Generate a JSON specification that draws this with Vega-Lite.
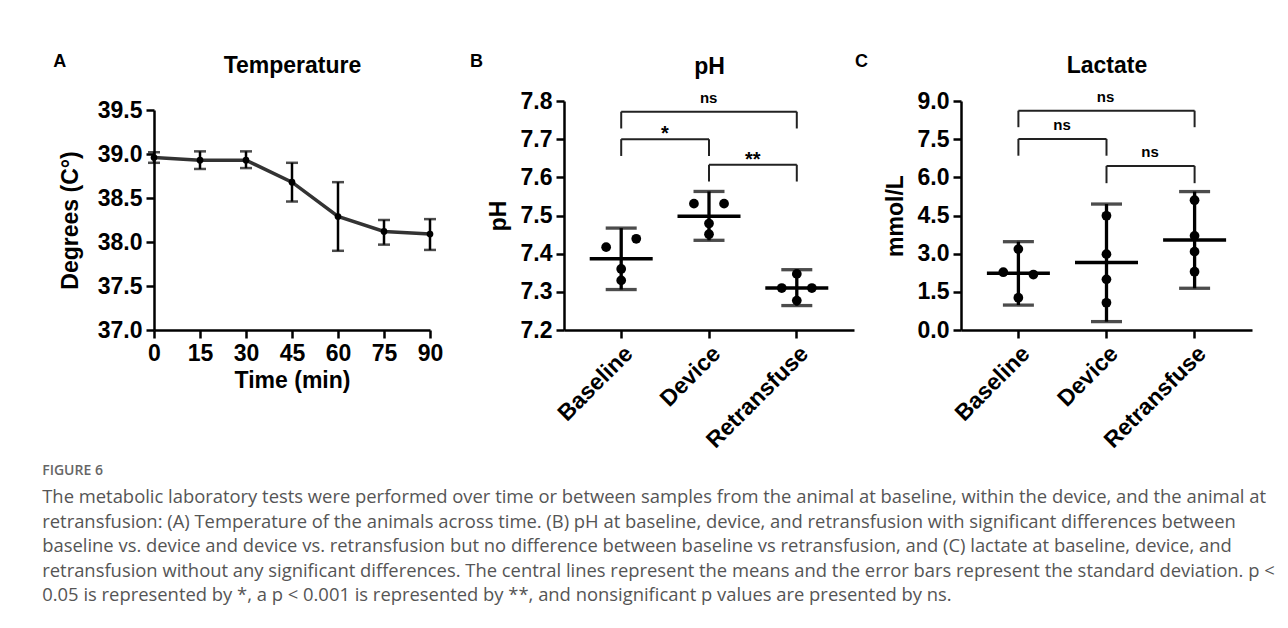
{
  "$schema": "https://vega.github.io/schema/vega-lite/v6.json",
  "background": "white",
  "padding": {"left": 42, "top": 53, "right": 5, "bottom": 2},
  "config": {
    "view": {"stroke": null},
    "font": "Liberation Sans",
    "axis": {
      "domainColor": "#000", "domainWidth": 2.5, "tickColor": "#000", "tickWidth": 2.5, "tickSize": 8,
      "labelFont": "Liberation Sans", "labelFontSize": 23, "labelFontWeight": "bold", "labelColor": "#000",
      "titleFont": "Liberation Sans", "titleFontSize": 23, "titleFontWeight": "bold", "titleColor": "#000",
      "grid": false, "labelPadding": 4, "labelOverlap": false, "labelFlush": false
    }
  },
  "datasets": {
    "temp": [
      {"time": 0, "mean": 38.96, "lo": 38.90, "hi": 39.02},
      {"time": 15, "mean": 38.93, "lo": 38.83, "hi": 39.03},
      {"time": 30, "mean": 38.93, "lo": 38.84, "hi": 39.03},
      {"time": 45, "mean": 38.68, "lo": 38.46, "hi": 38.90},
      {"time": 60, "mean": 38.29, "lo": 37.90, "hi": 38.68},
      {"time": 75, "mean": 38.12, "lo": 37.97, "hi": 38.25},
      {"time": 90, "mean": 38.09, "lo": 37.91, "hi": 38.26}
    ],
    "phSummary": [
      {"group": "Baseline", "mean": 7.387, "lo": 7.306, "hi": 7.467},
      {"group": "Device", "mean": 7.498, "lo": 7.435, "hi": 7.563},
      {"group": "Retransfuse", "mean": 7.310, "lo": 7.264, "hi": 7.358}
    ],
    "phPoints": [
      {"group": "Baseline", "value": 7.417, "slot": "L"},
      {"group": "Baseline", "value": 7.439, "slot": "R"},
      {"group": "Baseline", "value": 7.360, "slot": "C"},
      {"group": "Baseline", "value": 7.330, "slot": "C"},
      {"group": "Device", "value": 7.531, "slot": "L"},
      {"group": "Device", "value": 7.531, "slot": "R"},
      {"group": "Device", "value": 7.479, "slot": "C"},
      {"group": "Device", "value": 7.451, "slot": "C"},
      {"group": "Retransfuse", "value": 7.347, "slot": "C"},
      {"group": "Retransfuse", "value": 7.310, "slot": "L"},
      {"group": "Retransfuse", "value": 7.310, "slot": "R"},
      {"group": "Retransfuse", "value": 7.277, "slot": "C"}
    ],
    "phBr": [
      {"from": "Baseline", "to": "Retransfuse", "top": 7.772, "leg": 7.728, "label": "ns", "span": 2},
      {"from": "Baseline", "to": "Device", "top": 7.700, "leg": 7.656, "label": "*", "span": 1},
      {"from": "Device", "to": "Retransfuse", "top": 7.633, "leg": 7.589, "label": "**", "span": 1}
    ],
    "lacSummary": [
      {"group": "Baseline", "mean": 2.23, "lo": 0.98, "hi": 3.47},
      {"group": "Device", "mean": 2.65, "lo": 0.33, "hi": 4.95},
      {"group": "Retransfuse", "mean": 3.54, "lo": 1.64, "hi": 5.44}
    ],
    "lacPoints": [
      {"group": "Baseline", "value": 3.18, "slot": "C"},
      {"group": "Baseline", "value": 2.27, "slot": "L"},
      {"group": "Baseline", "value": 2.18, "slot": "R"},
      {"group": "Baseline", "value": 1.27, "slot": "C"},
      {"group": "Device", "value": 4.49, "slot": "C"},
      {"group": "Device", "value": 2.98, "slot": "C"},
      {"group": "Device", "value": 1.99, "slot": "C"},
      {"group": "Device", "value": 1.07, "slot": "C"},
      {"group": "Retransfuse", "value": 5.10, "slot": "C"},
      {"group": "Retransfuse", "value": 3.70, "slot": "C"},
      {"group": "Retransfuse", "value": 3.08, "slot": "C"},
      {"group": "Retransfuse", "value": 2.29, "slot": "C"}
    ],
    "lacBr": [
      {"from": "Baseline", "to": "Retransfuse", "top": 8.62, "leg": 7.97, "label": "ns", "span": 2},
      {"from": "Baseline", "to": "Device", "top": 7.51, "leg": 6.85, "label": "ns", "span": 1},
      {"from": "Device", "to": "Retransfuse", "top": 6.45, "leg": 5.77, "label": "ns", "span": 1}
    ]
  },
  "title": {
    "text": "FIGURE 6",
    "subtitle": [
      "The metabolic laboratory tests were performed over time or between samples from the animal at baseline, within the device, and the animal at",
      "retransfusion: (A) Temperature of the animals across time. (B) pH at baseline, device, and retransfusion with significant differences between",
      "baseline vs. device and device vs. retransfusion but no difference between baseline vs retransfusion, and (C) lactate at baseline, device, and",
      "retransfusion without any significant differences. The central lines represent the means and the error bars represent the standard deviation. p <",
      "0.05 is represented by *, a p < 0.001 is represented by **, and nonsignificant p values are presented by ns."
    ],
    "orient": "bottom", "anchor": "start", "frame": "bounds",
    "font": "Open Sans", "fontSize": 14, "fontWeight": 600, "color": "#666",
    "subtitleFont": "Open Sans", "subtitleFontSize": 18.4, "subtitleColor": "#555", "subtitleLineHeight": 24.5, "subtitlePadding": 10,
    "offset": 12, "dx": -11
  },
  "bounds": "flush",
  "spacing": 134,
  "hconcat": [
    {
      "width": 276, "height": 229,
      "title": {"text": "A", "anchor": "start", "frame": "bounds", "font": "Liberation Sans", "fontSize": 18, "fontWeight": "bold", "color": "#000", "baseline": "alphabetic", "offset": 0, "dy": 31, "dx": -6},
      "data": {"name": "temp"},
      "resolve": {"axis": {"x": "independent"}},
      "layer": [
        {
          "mark": {"type": "errorbar", "ticks": true, "size": 12, "thickness": 2.5, "color": "#000"},
          "encoding": {
            "x": {"field": "time", "type": "quantitative", "axis": null},
            "y": {"field": "lo", "type": "quantitative", "title": "Degrees (C°)"},
            "y2": {"field": "hi"}
          }
        },
        {
          "mark": {"type": "line", "strokeWidth": 3.5, "color": "#333"},
          "encoding": {
            "x": {"field": "time", "type": "quantitative", "scale": {"domain": [0, 90], "nice": false, "zero": false},
                  "axis": {"values": [0, 15, 30, 45, 60, 75, 90], "tickCount": 10, "title": "Time (min)", "titlePadding": 4, "labelOverlap": false, "labelFlush": false}},
            "y": {"field": "mean", "type": "quantitative", "title": "Degrees (C°)",
                  "scale": {"domain": [37, 39.5], "nice": false, "zero": false, "range": [229, 9]},
                  "axis": {"values": [37, 37.5, 38, 38.5, 39, 39.5], "tickCount": 10, "format": ".1f", "titlePadding": 15, "labelOverlap": false}}
          }
        },
        {
          "mark": {"type": "circle", "size": 45, "color": "#000", "opacity": 1},
          "encoding": {
            "x": {"field": "time", "type": "quantitative",
                  "axis": {"orient": "top", "title": "Temperature", "labels": false, "ticks": false, "domain": false, "titlePadding": 24}},
            "y": {"field": "mean", "type": "quantitative", "title": "Degrees (C°)"}
          }
        }
      ]
    },
    {
      "bounds": "flush",
      "spacing": 107,
      "hconcat": [
        {
          "width": 290, "height": 229,
          "title": {"text": "B", "anchor": "start", "frame": "bounds", "font": "Liberation Sans", "fontSize": 18, "fontWeight": "bold", "color": "#000", "baseline": "alphabetic", "offset": 0, "dy": 30, "dx": -17},
          "resolve": {"axis": {"x": "independent"}},
          "layer": [
            {
              "data": {"name": "phSummary"},
              "mark": {"type": "errorbar", "ticks": true, "size": 31, "thickness": 3.3, "color": "#000"},
              "encoding": {
                "x": {"field": "group", "type": "nominal", "axis": null},
                "y": {"field": "lo", "type": "quantitative", "title": "pH"},
                "y2": {"field": "hi"}
              }
            },
            {
              "data": {"name": "phSummary"},
              "mark": {"type": "tick", "size": 63, "thickness": 3.5, "color": "#000", "opacity": 1},
              "encoding": {
                "x": {"field": "group", "type": "nominal",
                      "scale": {"domain": ["Baseline", "Device", "Retransfuse"], "paddingInner": 0.657, "paddingOuter": 0.48},
                      "axis": {"labelAngle": -45, "title": null, "labelOverlap": false}},
                "y": {"field": "mean", "type": "quantitative", "title": "pH",
                      "scale": {"domain": [7.2, 7.8], "nice": false, "zero": false},
                      "axis": {"values": [7.2, 7.3, 7.4, 7.5, 7.6, 7.7, 7.8], "tickCount": 10, "format": ".1f", "titlePadding": 10, "labelOverlap": false}}
              }
            },
            {
              "data": {"name": "phPoints"},
              "mark": {"type": "circle", "size": 95, "color": "#000", "opacity": 1},
              "encoding": {
                "x": {"field": "group", "type": "nominal",
                      "axis": {"orient": "top", "title": "pH", "labels": false, "ticks": false, "domain": false, "titlePadding": 23}},
                "y": {"field": "value", "type": "quantitative", "title": "pH"},
                "xOffset": {"field": "slot", "type": "nominal", "scale": {"domain": ["L", "C", "R"], "paddingInner": 0, "paddingOuter": 0}}
              }
            },
            {
              "data": {"name": "phBr"},
              "mark": {"type": "rule", "strokeWidth": 2, "color": "#222"},
              "encoding": {"x": {"field": "from", "type": "nominal", "axis": null}, "x2": {"field": "to"}, "y": {"field": "top", "type": "quantitative", "title": "pH"}}
            },
            {
              "data": {"name": "phBr"},
              "mark": {"type": "rule", "strokeWidth": 2, "color": "#222"},
              "encoding": {"x": {"field": "from", "type": "nominal", "axis": null}, "y": {"field": "top", "type": "quantitative", "title": "pH"}, "y2": {"field": "leg"}}
            },
            {
              "data": {"name": "phBr"},
              "mark": {"type": "rule", "strokeWidth": 2, "color": "#222"},
              "encoding": {"x": {"field": "to", "type": "nominal", "axis": null}, "y": {"field": "top", "type": "quantitative", "title": "pH"}, "y2": {"field": "leg"}}
            },
            {
              "data": {"name": "phBr"},
              "transform": [{"filter": "datum.span == 2"}],
              "mark": {"type": "text", "font": "Liberation Sans", "fontWeight": "bold", "fontSize": 15, "color": "#000", "baseline": "middle", "dx": 87.5, "dy": -14},
              "encoding": {"x": {"field": "from", "type": "nominal", "axis": null}, "y": {"field": "top", "type": "quantitative", "title": "pH"}, "text": {"field": "label"}}
            },
            {
              "data": {"name": "phBr"},
              "transform": [{"filter": "datum.label != 'ns'"}],
              "mark": {"type": "text", "font": "Liberation Sans", "fontWeight": "bold", "fontSize": 20, "color": "#000", "baseline": "middle", "dx": 43.7, "dy": -5},
              "encoding": {"x": {"field": "from", "type": "nominal", "axis": null}, "y": {"field": "top", "type": "quantitative", "title": "pH"}, "text": {"field": "label"}}
            }
          ]
        },
        {
          "width": 291, "height": 229,
          "title": {"text": "C", "anchor": "start", "frame": "bounds", "font": "Liberation Sans", "fontSize": 18, "fontWeight": "bold", "color": "#000", "baseline": "alphabetic", "offset": 0, "dy": 31, "dx": -29},
          "resolve": {"axis": {"x": "independent"}},
          "layer": [
            {
              "data": {"name": "lacSummary"},
              "mark": {"type": "errorbar", "ticks": true, "size": 31, "thickness": 3.3, "color": "#000"},
              "encoding": {
                "x": {"field": "group", "type": "nominal", "axis": null},
                "y": {"field": "lo", "type": "quantitative", "title": "mmol/L"},
                "y2": {"field": "hi"}
              }
            },
            {
              "data": {"name": "lacSummary"},
              "mark": {"type": "tick", "size": 63, "thickness": 3.5, "color": "#000", "opacity": 1},
              "encoding": {
                "x": {"field": "group", "type": "nominal",
                      "scale": {"domain": ["Baseline", "Device", "Retransfuse"], "paddingInner": 0.657, "paddingOuter": 0.48},
                      "axis": {"labelAngle": -45, "title": null, "labelOverlap": false}},
                "y": {"field": "mean", "type": "quantitative", "title": "mmol/L",
                      "scale": {"domain": [0, 9], "nice": false},
                      "axis": {"values": [0, 1.5, 3, 4.5, 6, 7.5, 9], "tickCount": 10, "format": ".1f", "titlePadding": 10, "labelOverlap": false}}
              }
            },
            {
              "data": {"name": "lacPoints"},
              "mark": {"type": "circle", "size": 95, "color": "#000", "opacity": 1},
              "encoding": {
                "x": {"field": "group", "type": "nominal",
                      "axis": {"orient": "top", "title": "Lactate", "labels": false, "ticks": false, "domain": false, "titlePadding": 24}},
                "y": {"field": "value", "type": "quantitative", "title": "mmol/L"},
                "xOffset": {"field": "slot", "type": "nominal", "scale": {"domain": ["L", "C", "R"], "paddingInner": 0, "paddingOuter": 0}}
              }
            },
            {
              "data": {"name": "lacBr"},
              "mark": {"type": "rule", "strokeWidth": 2, "color": "#222"},
              "encoding": {"x": {"field": "from", "type": "nominal", "axis": null}, "x2": {"field": "to"}, "y": {"field": "top", "type": "quantitative", "title": "mmol/L"}}
            },
            {
              "data": {"name": "lacBr"},
              "mark": {"type": "rule", "strokeWidth": 2, "color": "#222"},
              "encoding": {"x": {"field": "from", "type": "nominal", "axis": null}, "y": {"field": "top", "type": "quantitative", "title": "mmol/L"}, "y2": {"field": "leg"}}
            },
            {
              "data": {"name": "lacBr"},
              "mark": {"type": "rule", "strokeWidth": 2, "color": "#222"},
              "encoding": {"x": {"field": "to", "type": "nominal", "axis": null}, "y": {"field": "top", "type": "quantitative", "title": "mmol/L"}, "y2": {"field": "leg"}}
            },
            {
              "data": {"name": "lacBr"},
              "transform": [{"filter": "datum.span == 2"}],
              "mark": {"type": "text", "font": "Liberation Sans", "fontWeight": "bold", "fontSize": 15, "color": "#000", "baseline": "middle", "dx": 87.2, "dy": -14},
              "encoding": {"x": {"field": "from", "type": "nominal", "axis": null}, "y": {"field": "top", "type": "quantitative", "title": "mmol/L"}, "text": {"field": "label"}}
            },
            {
              "data": {"name": "lacBr"},
              "transform": [{"filter": "datum.span == 1"}],
              "mark": {"type": "text", "font": "Liberation Sans", "fontWeight": "bold", "fontSize": 15, "color": "#000", "baseline": "middle", "dx": 43.6, "dy": -14},
              "encoding": {"x": {"field": "from", "type": "nominal", "axis": null}, "y": {"field": "top", "type": "quantitative", "title": "mmol/L"}, "text": {"field": "label"}}
            }
          ]
        }
      ]
    }
  ]
}
